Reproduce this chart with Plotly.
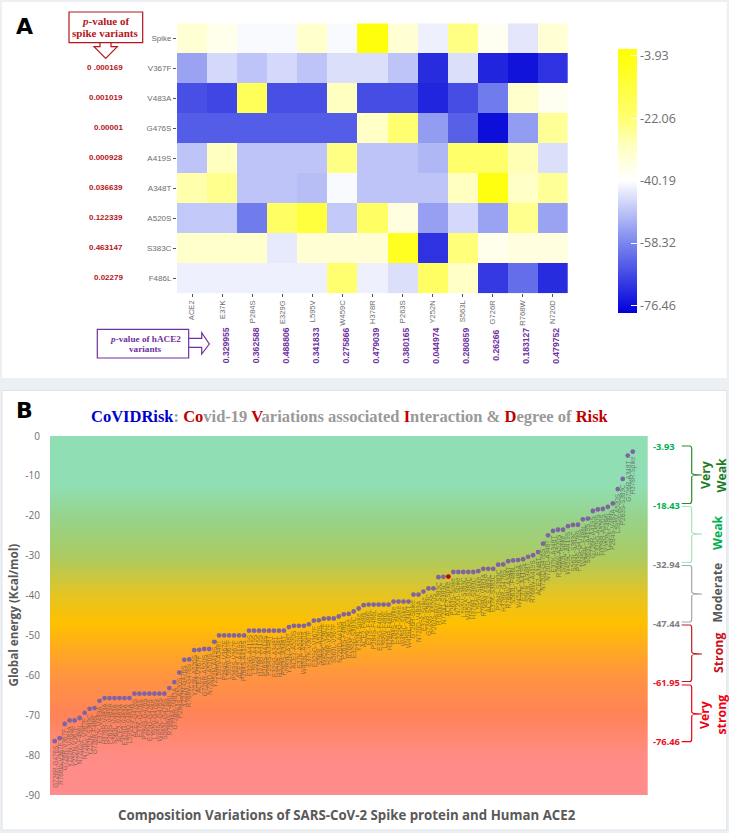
import plotly.graph_objects as go

W, H = 729, 833

# ---------- Panel A data ----------
ace2_variants = ["ACE2", "E37K", "P284S", "E329G", "L595V", "W459C", "H378R", "P263S", "Y252N", "S563L", "G726R", "R768W", "N720D"]
spike_variants = ["Spike", "V367F", "V483A", "G476S", "A419S", "A348T", "A520S", "S383C", "F486L"]
row_spike = [-33, -37, -41, -41, -32, -41, -3.93, -33, -42.5, -24, -38, -44, -33]
row_v367f = [-54, -46, -49, -46, -49, -45, -45, -49, -72, -45, -73, -75.75, -71]
row_v483a = [-66.6, -68, -18, -66.6, -66.6, -30, -67, -67, -73, -67, -60, -32, -38]
row_g476s = [-64.6, -64.6, -64.6, -64.6, -64.6, -64.6, -31, -22, -55, -64, -76.46, -55, -26]
row_a419s = [-49, -30, -49, -49, -49, -24, -49, -49, -51, -21, -21, -29, -45]
row_a348t = [-28, -25, -49, -49, -50, -41, -49, -49, -49, -30, -4.9, -31, -26]
row_a520s = [-48.5, -48.5, -60, -20, -13, -48.5, -20, -35, -54.5, -46, -54, -25, -54]
row_s383c = [-32, -32, -32, -43.5, -33, -33, -33, -8, -71, -23, -37, -35, -35]
row_f486l = [-42.5, -42.5, -42.5, -42.5, -42.5, -22, -42.5, -45, -20, -31, -70, -62, -72]
heat_rows = [row_spike, row_v367f, row_v483a, row_g476s, row_a419s, row_a348t, row_a520s, row_s383c, row_f486l]

spike_p = ["0 .000169", "0.001019", "0.00001", "0.000928", "0.036639", "0.122339", "0.463147", "0.02279"]
ace2_p = ["0.329955", "0.362588", "0.488806", "0.341833", "0.275866", "0.479039", "0.380165", "0.044974", "0.280859", "0.26266", "0.183127", "0.479752"]
cbar_ticks = [-3.93, -22.06, -40.19, -58.32, -76.46]
cbar_labels = ["-3.93", "-22.06", "-40.19", "-58.32", "-76.46"]

# ---------- Panel B data ----------
global_energy = [
    -76.5, -75.75, -72.2, -71.3, -71.3, -70.7, -69.4, -68.4, -68.2, -66.4,
    -65.7, -65.7, -65.7, -65.7, -65.7, -65.7,
    -64.6, -64.6, -64.6, -64.6, -64.6, -64.6, -64.6,
    -63.2, -61.7, -59.3, -56.1, -56, -53.7, -53.6, -53.4, -53.4, -51.6,
    -50, -50, -50, -50, -50, -50,
    -48.8, -48.8, -48.8, -48.8, -48.8, -48.8, -48.8, -48.8,
    -47.9, -47.6, -47.6, -47.6, -47.2, -46.3, -46.2, -45.8, -45.75, -45.75,
    -45.25, -44.7, -44.6, -44, -43.25, -42.4,
    -42.25, -42.25, -42.25, -42.25, -42.25,
    -41.5, -41.5, -41.5, -41.5, -39.75, -39.75, -39, -38.2, -38.2,
    -35.4, -35.3, -35.25,
    -34.1, -34.1, -34.1, -34.1, -34.1, -33.9, -33.3, -33.3, -33.3,
    -32.25, -32.2, -31.4, -31.2, -31.1, -30.9, -30.3, -29.9, -29.1, -27, -24.9,
    -23.8, -23.5, -23.5, -22.6, -22.3, -22.25, -20.9, -20.7,
    -18.8, -18.4, -18.3, -17.75, -16.9, -13.3, -10.75, -4.9, -3.93,
]
point_index = list(range(1, len(global_energy) + 1))
highlight_index = 80
y_ticks = [0, -10, -20, -30, -40, -50, -60, -70, -80, -90]
grad_levels = [0, -12, -20, -30, -40, -47, -60, -70, -80, -90]
grad_colors = ["#90DFB4", "#90DFB4", "#96D38C", "#ABCB62", "#E6C420", "#FFC000", "#FF9440", "#FF8358", "#FF8C84", "#FF8C8C"]
level_labels = ["-3.93", "-18.43", "-32.94", "-47.44", "-61.95", "-76.46"]

# Composition labels, ordered by the heat-map energies
cells = []
for r, row in zip(spike_variants, heat_rows):
    for c, v in zip(ace2_variants, row):
        cells.append((v, f"{c}-{r}"))
composition_labels = [t for _, t in sorted(cells, key=lambda a: a[0])]


def fx(x):
    return x / W


def fy(y):
    return 1 - y / H


def path(points, close=False):
    s = "M " + " L ".join(f"{fx(x):.5f},{fy(y):.5f}" for x, y in points)
    return s + (" Z" if close else "")


def brace(x0, x1, tip, y0, y1, ym, color, w=1.2):
    a = (f"M {fx(x0):.5f},{fy(y0):.5f} L {fx(x1-2):.5f},{fy(y0):.5f} "
         f"Q {fx(x1):.5f},{fy(y0):.5f} {fx(x1):.5f},{fy(y0+3):.5f} "
         f"L {fx(x1):.5f},{fy(ym-2):.5f} Q {fx(x1):.5f},{fy(ym):.5f} {fx(tip):.5f},{fy(ym):.5f} "
         f"Q {fx(x1):.5f},{fy(ym):.5f} {fx(x1):.5f},{fy(ym+2):.5f} "
         f"L {fx(x1):.5f},{fy(y1-3):.5f} Q {fx(x1):.5f},{fy(y1):.5f} {fx(x1-2):.5f},{fy(y1):.5f} "
         f"L {fx(x0):.5f},{fy(y1):.5f}")
    return dict(type="path", xref="paper", yref="paper", path=a, line=dict(color=color, width=w), layer="above")


fig = go.Figure()

heat_scale = [
    [0.0, "#0000D8"], [(78.6 - 58.32) / 76.6, "#7A86EE"],
    [(78.6 - 40.19) / 76.6, "#FFFFFF"], [(78.6 - 30) / 76.6, "#FFFFC0"],
    [(78.6 - 22.06) / 76.6, "#FFFF70"], [1.0, "#FFFF00"],
]

fig.add_trace(go.Heatmap(
    z=heat_rows, x=ace2_variants, y=spike_variants, xaxis="x", yaxis="y",
    zmin=-78.6, zmax=-2, colorscale=heat_scale, hoverongaps=False,
    colorbar=dict(
        x=fx(618.3), xanchor="left", xpad=0, thickness=19.4, thicknessmode="pixels",
        y=fy(49), yanchor="top", ypad=0, len=263.7 / H, lenmode="fraction",
        outlinewidth=0, tickmode="array", tickvals=cbar_ticks, ticktext=cbar_labels,
        ticks="inside", ticklen=6, tickcolor="white", tickwidth=1,
        tickfont=dict(family="Open Sans", size=12.5, color="#6E6E6E"),
    ),
))

grad_scale = sorted([[(v + 90) / 90, c] for v, c in zip(grad_levels, grad_colors)], key=lambda s: s[0])
fig.add_trace(go.Heatmap(
    z=[[v, v] for v in grad_levels], x=[0, 120], y=grad_levels, xaxis="x2", yaxis="y2",
    zmin=-90, zmax=0, colorscale=grad_scale, showscale=False, zsmooth="best", hoverinfo="skip",
))

fig.add_trace(go.Scatter(
    x=point_index, y=global_energy, mode="markers", xaxis="x2", yaxis="y2",
    marker=dict(size=4.8, color=["#C00000" if i == highlight_index else "#8064A2" for i in point_index]),
    showlegend=False,
))

ann = []
for i, v, t in zip(point_index, global_energy, composition_labels):
    ann.append(dict(x=i, y=v, xref="x2", yref="y2", text=t, textangle=-90, showarrow=False,
                    xanchor="center", yanchor="top", yshift=-4, borderpad=0,
                    font=dict(family="Liberation Sans", size=6.4, color="rgba(80,80,70,0.7)")))


def label(x, y, text, size, color, family="Open Sans", angle=0, xanchor="center", yanchor="middle"):
    ann.append(dict(x=fx(x), y=fy(y), xref="paper", yref="paper", text=text, textangle=angle, showarrow=False,
                    xanchor=xanchor, yanchor=yanchor, borderpad=0, font=dict(family=family, size=size, color=color)))


label(24, 27, "<b>A</b>", 22, "#000000", "DejaVu Sans")
label(24.5, 411, "<b>B</b>", 22, "#000000", "DejaVu Sans")

DRED = "#B3161B"
PURP = "#7030A0"
SERIF = "Liberation Serif"
label(105.5, 21, "<b><i>p</i>-value of</b>", 11, DRED, SERIF)
label(105.5, 33, "<b>spike variants</b>", 11, DRED, SERIF)
label(145, 338.5, "<b><i>p</i>-value of hACE2</b>", 9.2, PURP, SERIF)
label(145, 349.5, "<b>variants</b>", 9.2, PURP, SERIF)

for r, p in zip(spike_variants[1:], spike_p):
    i = spike_variants.index(r)
    label(124, 23.3 + 30 * (i + 0.5) - 0.5, f"<b>{p}</b>", 8, DRED, "Liberation Sans", xanchor="right")
for k, p in enumerate(ace2_p):
    label(177 + 30.05 * (k + 1.5) + 3.5, 345.7, f"<b>{p}</b>", 8.6, PURP, "Liberation Sans", angle=-90)

G = "#999999"
R = "#C00000"
def sp(t, c):
    return f'<span style="color:{c}">{t}</span>'
title_html = (sp("CoVIDRisk", "#0000CC") + sp(": ", G) + sp("Co", R) + sp("vid-19 ", G) + sp("V", R)
              + sp("ariations associated ", G) + sp("I", R) + sp("nteraction &amp; ", G) + sp("D", R)
              + sp("egree of ", G) + sp("Risk", R))
label(349.5, 416, f"<b>{title_html}</b>", 16.5, G, "Liberation Serif")
label(347, 815, "<b>Composition Variations of SARS-CoV-2 Spike protein and Human ACE2</b>", 13.25, "#595959")
label(12, 615.5, "<b>Global energy (Kcal/mol)</b>", 11.7, "#595959", angle=-90)

level_y = [446, 505, 564, 623.3, 682.7, 741.7]
level_c = ["#00B050", "#00B050", "#808080", "#808080", "#E8101C", "#E8101C"]
for t, y, c in zip(level_labels, level_y, level_c):
    label(652, y, f"<b>{t}</b>", 9.3, c, "Open Sans", xanchor="left")

DG = "#1E7B1E"
label(705, 475, "<b>Very</b>", 12.3, DG, angle=-90)
label(720.5, 475, "<b>Weak</b>", 12.3, DG, angle=-90)
label(717, 533, "<b>Weak</b>", 12.3, "#00B050", angle=-90)
label(717, 592.5, "<b>Moderate</b>", 12.3, "#595959", angle=-90)
label(718, 653, "<b>Strong</b>", 12.3, "#C8101C", angle=-90)
label(704, 715, "<b>Very</b>", 12.3, "#F00010", angle=-90)
label(720.5, 715, "<b>strong</b>", 12.3, "#F00010", angle=-90)

shapes = [
    dict(type="rect", xref="paper", yref="paper", x0=fx(2), x1=fx(726.7), y0=fy(378), y1=fy(2),
         fillcolor="white", line=dict(width=0), layer="below"),
    dict(type="rect", xref="paper", yref="paper", x0=fx(2), x1=fx(726.7), y0=fy(830), y1=fy(390.5),
         fillcolor="white", line=dict(color="#DDE3EA", width=1), layer="below"),
    dict(type="rect", xref="paper", yref="paper", x0=fx(69), x1=fx(142.7), y0=fy(42.7), y1=fy(12),
         fillcolor="white", line=dict(color=DRED, width=1.2), layer="above"),
    dict(type="path", xref="paper", yref="paper",
         path=path([(100, 42.7), (100, 46.7), (94, 46.7), (105.7, 58.3), (117.3, 46.7), (111, 46.7), (111, 42.7)]),
         line=dict(color=DRED, width=1.2), layer="above"),
    dict(type="rect", xref="paper", yref="paper", x0=fx(97.3), x1=fx(188.7), y0=fy(358), y1=fy(329.3),
         fillcolor="white", line=dict(color=PURP, width=1.2), layer="above"),
    dict(type="path", xref="paper", yref="paper",
         path=path([(188.7, 338.3), (201.7, 338.3), (201.7, 332.7), (209.3, 344), (201.7, 354), (201.7, 347.3), (188.7, 347.3)]),
         line=dict(color=PURP, width=1.2), layer="above"),
    brace(681.7, 691.7, 702, 446, 503.5, 475, "#2E8B2E"),
    brace(681.7, 691.7, 702, 506.5, 562.5, 534, "#A8E4B4"),
    brace(681.7, 691.7, 702, 565.5, 622, 594, "#A6A6A6"),
    brace(681.7, 691.7, 702, 625, 681.5, 654, "#B82025"),
    brace(681.7, 691.7, 702, 685, 741.7, 714, "#F00010"),
]
for t in cbar_ticks:
    yy = 55.5 + (-3.93 - t) * 62.4 / 18.13
    shapes.append(dict(type="line", xref="paper", yref="paper", x0=fx(618.3), x1=fx(624), y0=fy(yy), y1=fy(yy),
                       line=dict(color="white", width=1), layer="above"))

tick_font = dict(family="Liberation Sans", size=8, color="#6E6E6E")
fig.update_layout(
    width=W, height=H, autosize=False, margin=dict(l=0, r=0, t=0, b=0, autoexpand=False),
    paper_bgcolor="#EDF0F3", plot_bgcolor="rgba(0,0,0,0)", showlegend=False,
    xaxis=dict(domain=[fx(177), fx(567.7)], anchor="y", ticks="outside", ticklen=3, tickcolor="#555",
               tickangle=-90, tickfont=dict(family="Liberation Sans", size=7.6, color="#6E6E6E"),
               showgrid=False, zeroline=False, showline=False, type="category"),
    yaxis=dict(domain=[fy(293.3), fy(23.3)], anchor="x", autorange="reversed", ticks="outside", ticklen=3,
               tickcolor="#555", tickfont=tick_font, showgrid=False, zeroline=False, showline=False, type="category"),
    xaxis2=dict(domain=[fx(50), fx(647.7)], anchor="y2", range=[0.056, 120], visible=False),
    yaxis2=dict(domain=[fy(795), fy(436)], anchor="x2", range=[-90, 0], tickmode="array", tickvals=y_ticks,
                ticktext=[str(v) for v in y_ticks], ticks="", showgrid=False, zeroline=False, showline=False,
                tickfont=dict(family="Open Sans", size=10, color="#6E6E6E"), ticklabelstandoff=9),
    annotations=ann, shapes=shapes,
)

fig.write_html("out.html", post_script="document.body.style.margin='0';", config=dict(displayModeBar=False))
